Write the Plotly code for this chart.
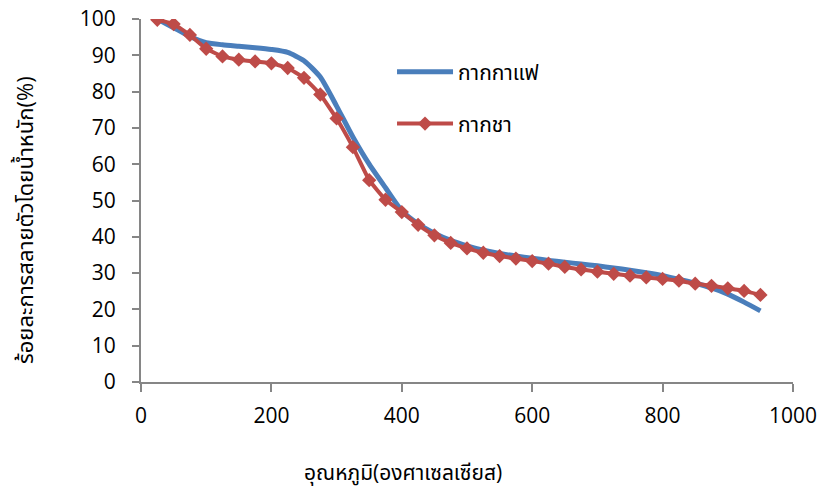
import plotly.graph_objects as go

temps = [25, 50, 75, 100, 125, 150, 175, 200, 225, 250, 275, 300, 325, 350, 375,
         400, 425, 450, 475, 500, 525, 550, 575, 600, 625, 650, 675, 700, 725, 750,
         775, 800, 825, 850, 875, 900, 925, 950]

coffee = [100, 97.6, 95.2, 93.5, 92.9, 92.5, 92.1, 91.6, 90.8, 88.5, 84, 76, 67.5, 60, 53.5,
          47.2, 43.6, 41, 39, 37.5, 36.3, 35.4, 34.7, 34.1, 33.5, 33.0, 32.5, 32.0, 31.4, 30.8,
          30.1, 29.3, 28.3, 27.2, 25.9, 24.2, 22.0, 19.6]

tea = [99.8, 98.6, 95.6, 91.8, 89.7, 88.8, 88.3, 87.8, 86.5, 83.8, 79.2, 72.6, 64.7, 55.6, 50.2,
       46.8, 43.3, 40.4, 38.3, 36.8, 35.6, 34.7, 34.0, 33.3, 32.6, 31.7, 31.0, 30.4, 29.8, 29.3,
       28.8, 28.4, 27.9, 27.1, 26.5, 25.8, 25.1, 24.0]

series_names = ["กากกาแฟ", "กากชา"]
x_title = "อุณหภูมิ(องศาเซลเซียส)"
y_title = "ร้อยละการสลายตัวโดยน้ำหนัก(%)"

FONT = "Open Sans, Noto Sans, Noto Sans Thai, sans-serif"
FS = 21

fig = go.Figure()
fig.add_trace(go.Scatter(
    x=temps, y=coffee, name=series_names[0], mode="lines",
    line=dict(color="#4A7EBB", width=5, shape="spline", smoothing=0.6),
    legend="legend",
))
fig.add_trace(go.Scatter(
    x=temps, y=tea, name=series_names[1], mode="lines+markers",
    line=dict(color="#BE4B48", width=4, shape="spline", smoothing=0.3),
    marker=dict(symbol="diamond", size=11, color="#BE4B48"),
    legend="legend2",
))

fig.update_layout(
    width=820, height=491,
    margin=dict(l=141, r=27, t=19, b=109),
    paper_bgcolor="white", plot_bgcolor="white",
    font=dict(family=FONT, size=FS, color="#000000"),
    showlegend=True,
    legend=dict(x=0.385, y=0.854, xanchor="left", yanchor="middle",
                bgcolor="rgba(0,0,0,0)", itemwidth=56,
                font=dict(family=FONT, size=FS)),
    legend2=dict(x=0.385, y=0.711, xanchor="left", yanchor="middle",
                 bgcolor="rgba(0,0,0,0)", itemwidth=56,
                 font=dict(family=FONT, size=FS)),
    xaxis=dict(range=[0, 1000], tickvals=[0, 200, 400, 600, 800, 1000],
               automargin=False,
               showgrid=False, zeroline=False, showline=True, linecolor="#868686",
               linewidth=2, ticks="outside", ticklen=8, tickwidth=2, tickcolor="#868686",
               tickfont=dict(size=FS), ticklabelstandoff=6),
    yaxis=dict(range=[0, 100], tickvals=list(range(0, 101, 10)),
               automargin=False,
               showgrid=False, zeroline=False, showline=True, linecolor="#868686",
               linewidth=2, ticks="outside", ticklen=7, tickwidth=2, tickcolor="#868686",
               tickfont=dict(size=FS), ticklabelstandoff=12),
    annotations=[
        dict(text=x_title, xref="paper", yref="paper", x=(403 - 141) / 652, y=-(472 - 382) / 363,
             xanchor="center", yanchor="middle", showarrow=False, font=dict(size=FS)),
        dict(text=y_title, xref="paper", yref="paper", x=-(141 - 24) / 652, y=(382 - 220) / 363,
             xanchor="center", yanchor="middle", showarrow=False, textangle=-90,
             font=dict(size=22)),
    ],
)

fig.write_html(
    "out.html",
    config={"displayModeBar": False},
    post_script="document.body.style.margin='0';document.body.style.overflow='hidden';",
)
